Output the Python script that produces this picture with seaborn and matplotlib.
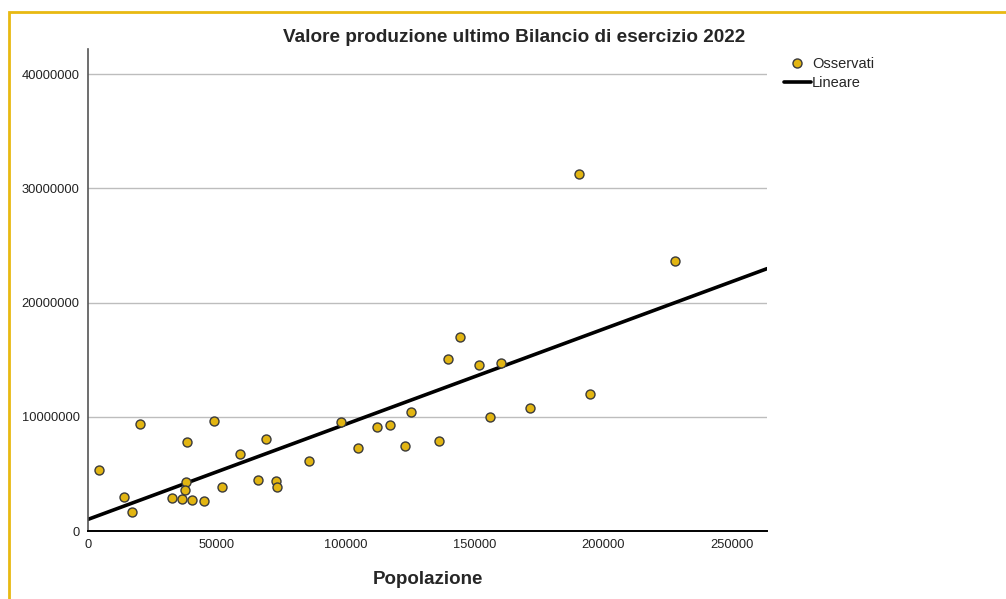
"""Grafico a dispersione: valore della produzione vs popolazione, con retta lineare."""

import matplotlib

matplotlib.use("Agg")

import matplotlib.pyplot as plt
import seaborn as sns
from matplotlib.lines import Line2D
from matplotlib.patches import Rectangle

# Dati (popolazione, valore produzione)
popolazione = [
    4150, 13850, 16950, 20050, 32610, 36370, 38300, 38160, 37650, 40370,
    45150, 49040, 52020, 59000, 65990, 68980, 72860, 73370, 85910, 98210,
    104810, 112300, 117350, 125500, 123180, 136380, 139750, 144290, 151910,
    160330, 156060, 171470, 194760, 190730, 227990,
]
valore_produzione = [
    5340000, 2950000, 1630000, 9360000, 2860000, 2770000, 7810000, 4260000,
    3610000, 2690000, 2600000, 9650000, 3850000, 6710000, 4440000, 8050000,
    4400000, 3850000, 6120000, 9540000, 7290000, 9070000, 9240000, 10440000,
    7470000, 7850000, 15020000, 17000000, 14500000, 14730000, 9950000,
    10790000, 11960000, 31230000, 23680000,
]

titolo = "Valore produzione ultimo Bilancio di esercizio 2022"
x_ticks = [0, 50000, 100000, 150000, 200000, 250000]
y_ticks = [0, 10000000, 20000000, 30000000, 40000000]

COLORE_PUNTI = "#E2B512"
COLORE_BORDO = "#E8B912"

sns.set_style("white")
plt.rcParams["font.family"] = ["Liberation Sans", "DejaVu Sans"]

fig = plt.figure(figsize=(10.06, 5.99), dpi=100)
ax = fig.add_axes([0.0875, 0.1135, 0.675, 0.8045])

# cornice gialla (esce dai bordi destro e inferiore)
fig.patches.append(Rectangle(
    (8.5 / 1006, -0.1), 1.2, 1 - 11.5 / 599 + 0.1,
    transform=fig.transFigure, fill=False,
    edgecolor=COLORE_BORDO, linewidth=2, zorder=0,
))

ax.set_xlim(0, 263600)
ax.set_ylim(0, 42200000)
ax.yaxis.grid(True, color="#BDBDBD", linewidth=1)
ax.set_axisbelow(True)

sns.regplot(
    x=popolazione, y=valore_produzione, ax=ax,
    ci=None, truncate=False,
    scatter_kws={"s": 42, "color": COLORE_PUNTI, "edgecolor": "#3a3a3a",
                 "linewidths": 1, "alpha": 1, "zorder": 3},
    line_kws={"color": "black", "linewidth": 2.6, "zorder": 2},
)

ax.set_xticks(x_ticks)
ax.set_yticks(y_ticks)
ax.set_xticklabels([str(v) for v in x_ticks])
ax.set_yticklabels([str(v) for v in y_ticks])
ax.tick_params(axis="both", length=0, labelsize=9.3, colors="#222222", pad=6)

for lato in ["top", "right"]:
    ax.spines[lato].set_visible(False)
ax.spines["left"].set_color("#555555")
ax.spines["left"].set_linewidth(1.2)
ax.spines["bottom"].set_color("black")
ax.spines["bottom"].set_linewidth(1.4)

ax.set_xlabel("Popolazione", fontsize=13.5, fontweight="bold", labelpad=14)
ax.set_ylabel("")

fig.text(514 / 1006, 1 - 37 / 599, titolo, ha="center", va="center",
         fontsize=13.7, fontweight="bold")

handles = [
    Line2D([], [], linestyle="none", marker="o", markersize=6.5,
           markerfacecolor=COLORE_PUNTI, markeredgecolor="#3a3a3a"),
    Line2D([], [], color="black", linewidth=2.6),
]
fig.legend(
    handles, ["Osservati", "Lineare"],
    loc="upper left", bbox_to_anchor=(777 / 1006, 1 - 50 / 599),
    frameon=False, fontsize=10.5, handlelength=1.8, handletextpad=0.1,
    labelspacing=0.35, borderpad=0,
)

fig.savefig("out.png", dpi=100)
plt.close(fig)
